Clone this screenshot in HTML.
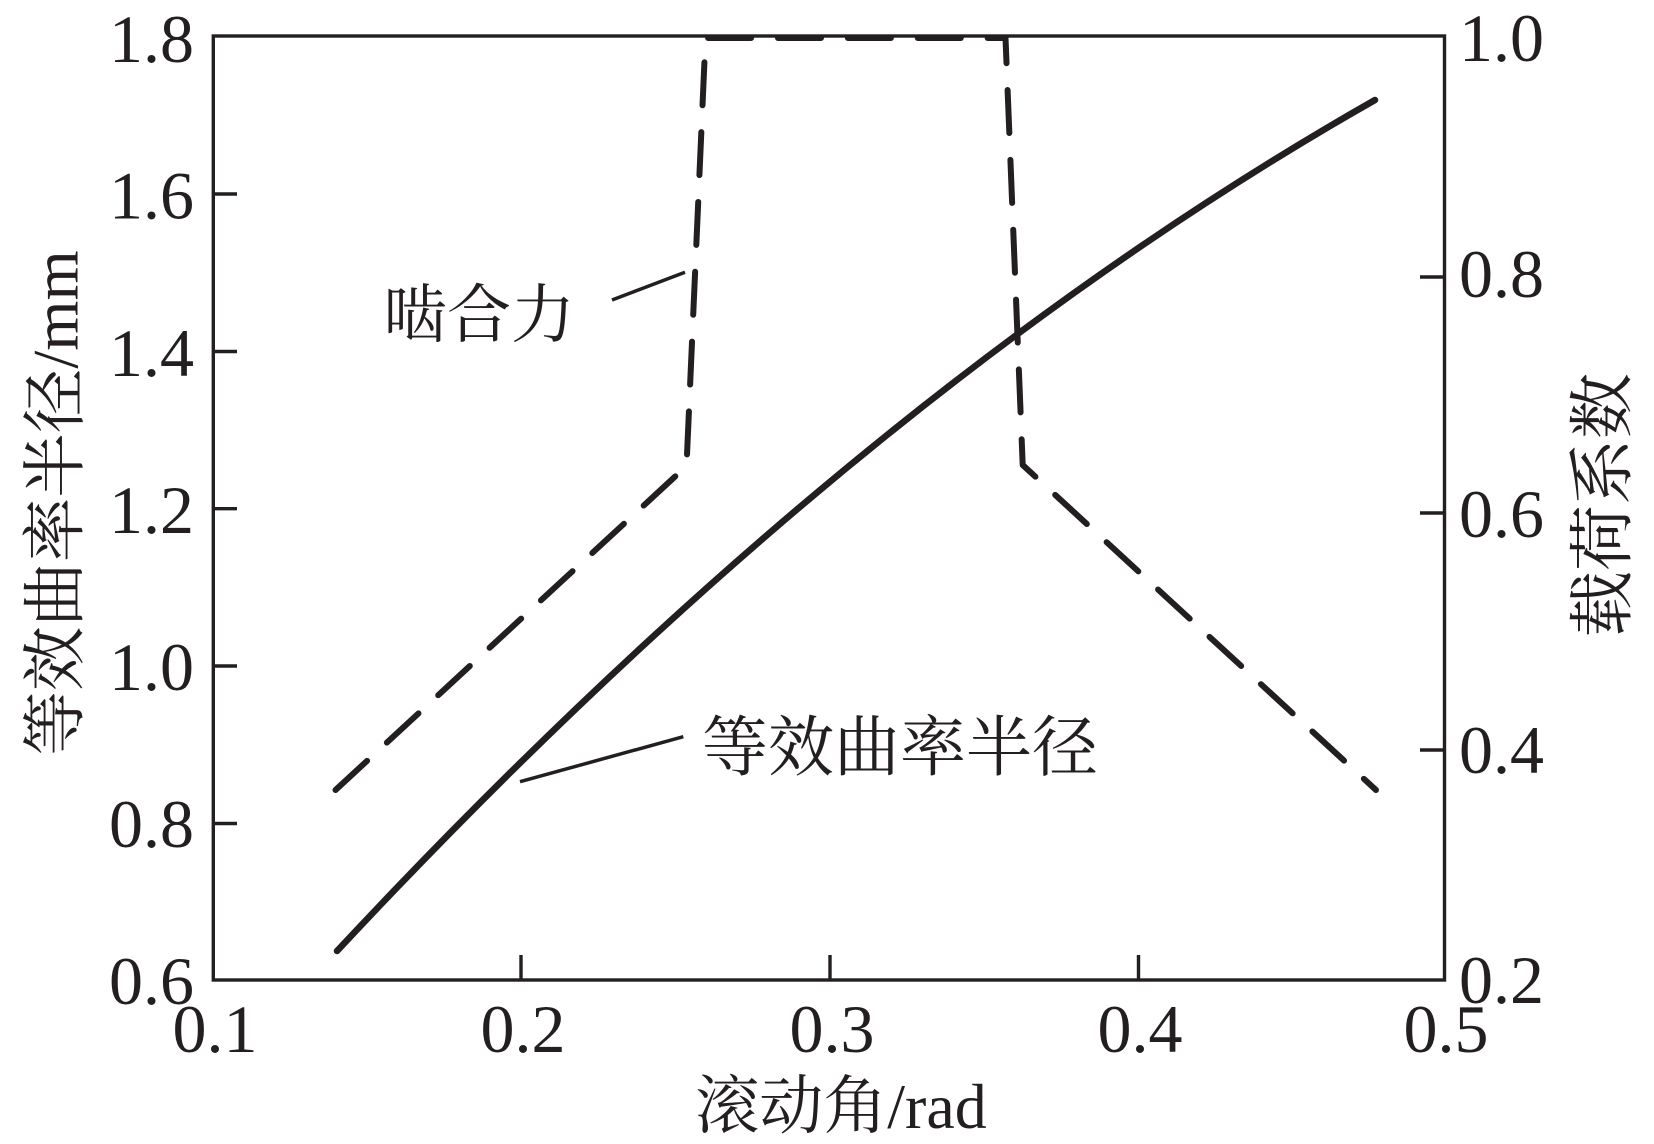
<!DOCTYPE html>
<html>
<head>
<meta charset="utf-8">
<style>
html,body{margin:0;padding:0;background:#fff;width:1654px;height:1144px;overflow:hidden}
svg{display:block}
text{font-family:"Liberation Serif","Noto Serif CJK SC",serif;fill:#231f20}
</style>
</head>
<body>
<svg width="1654" height="1144" viewBox="0 0 1654 1144" xmlns="http://www.w3.org/2000/svg">
  <rect x="0" y="0" width="1654" height="1144" fill="#ffffff"/>

  <!-- frame -->
  <rect x="213.3" y="36" width="1231.2" height="944" fill="none" stroke="#231f20" stroke-width="3.4"/>

  <g stroke="#231f20" stroke-width="3.4">
    <!-- left ticks -->
    <line x1="213" y1="194" x2="237" y2="194"/>
    <line x1="213" y1="351.5" x2="237" y2="351.5"/>
    <line x1="213" y1="508.7" x2="237" y2="508.7"/>
    <line x1="213" y1="666" x2="237" y2="666"/>
    <line x1="213" y1="823.5" x2="237" y2="823.5"/>
    <!-- right ticks -->
    <line x1="1444.5" y1="277" x2="1420" y2="277"/>
    <line x1="1444.5" y1="513" x2="1420" y2="513"/>
    <line x1="1444.5" y1="750" x2="1420" y2="750"/>
    <!-- bottom ticks -->
    <line x1="521" y1="980" x2="521" y2="955"/>
    <line x1="830" y1="980" x2="830" y2="955"/>
    <line x1="1138.5" y1="980" x2="1138.5" y2="955"/>
  </g>

  <!-- left tick labels -->
  <g font-size="68" text-anchor="end">
    <text x="194" y="62">1.8</text>
    <text x="194" y="218.5">1.6</text>
    <text x="194" y="376">1.4</text>
    <text x="194" y="533">1.2</text>
    <text x="194" y="690">1.0</text>
    <text x="194" y="847">0.8</text>
    <text x="194" y="1004">0.6</text>
  </g>

  <!-- right tick labels -->
  <g font-size="68" text-anchor="start">
    <text x="1459" y="61">1.0</text>
    <text x="1459" y="297">0.8</text>
    <text x="1459" y="537">0.6</text>
    <text x="1459" y="773">0.4</text>
    <text x="1459" y="1003">0.2</text>
  </g>

  <!-- bottom tick labels -->
  <g font-size="68" text-anchor="middle">
    <text x="215" y="1052">0.1</text>
    <text x="523" y="1052">0.2</text>
    <text x="832" y="1052">0.3</text>
    <text x="1140" y="1052">0.4</text>
    <text x="1446" y="1052">0.5</text>
  </g>

  <!-- axis titles -->
  <text font-size="64" text-anchor="middle" x="841" y="1128">滚动角/rad</text>
  <text font-size="64.5" text-anchor="middle" transform="translate(77.5,503) rotate(-90)">等效曲率半径/mm</text>
  <text font-size="66" text-anchor="middle" transform="translate(1625,505) rotate(-90)">载荷系数</text>

  <!-- solid curve -->
  <path d="M337,951 Q856,394.9 1375,100" fill="none" stroke="#231f20" stroke-width="6.5" stroke-linecap="round"/>

  <!-- dashed curve -->
  <path d="M335.5,790 L686.5,466 L705.5,38 L1005.5,38 L1022.7,465 L1376,790" fill="none" stroke="#231f20" stroke-width="6" stroke-linecap="round" stroke-linejoin="round" stroke-dasharray="43 26.9"/>

  <!-- annotations -->
  <line x1="612" y1="300" x2="685" y2="272.3" stroke="#231f20" stroke-width="3.5"/>
  <text font-size="64" text-anchor="middle" x="479" y="337">啮合力</text>

  <line x1="683.3" y1="736.7" x2="520" y2="781.7" stroke="#231f20" stroke-width="3.5"/>
  <text font-size="66" text-anchor="middle" x="900" y="770">等效曲率半径</text>
</svg>
</body>
</html>
